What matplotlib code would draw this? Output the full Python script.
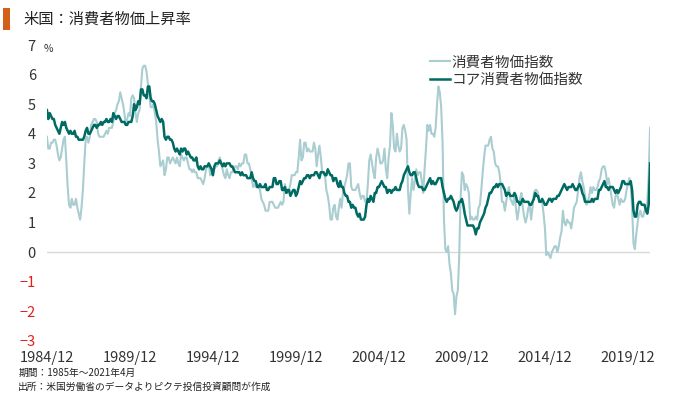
import numpy as np
import matplotlib
matplotlib.use('Agg')
import matplotlib.pyplot as plt
from matplotlib.patches import Rectangle

plt.rcParams['font.family'] = ['Noto Sans CJK JP', 'DejaVu Sans']

# 消費者物価指数 前年比 (%), 1984/12 - 2021/4 月次
cpi = [
    3.9,
    3.5, 3.5, 3.7, 3.7, 3.8, 3.8, 3.6, 3.3, 3.1, 3.2, 3.5, 3.8,
    3.9, 3.1, 2.2, 1.6, 1.5, 1.8, 1.6, 1.6, 1.8, 1.5, 1.3, 1.1,
    1.5, 2.1, 3.0, 3.8, 3.9, 3.7, 3.9, 4.3, 4.4, 4.5, 4.5, 4.4,
    4.0, 3.9, 3.9, 3.9, 3.9, 4.0, 4.1, 4.0, 4.2, 4.2, 4.2, 4.4,
    4.7, 4.8, 5.0, 5.1, 5.4, 5.2, 5.0, 4.7, 4.3, 4.5, 4.7, 4.6,
    5.2, 5.3, 5.2, 4.7, 4.4, 4.7, 4.8, 5.6, 6.2, 6.3, 6.3, 6.1,
    5.7, 5.3, 4.9, 4.9, 5.0, 4.7, 4.4, 3.8, 3.4, 2.9, 3.0, 3.1,
    2.6, 2.8, 3.2, 3.2, 3.0, 3.1, 3.2, 3.1, 3.0, 3.2, 3.0, 2.9,
    3.3, 3.2, 3.1, 3.2, 3.2, 3.0, 2.8, 2.8, 2.7, 2.8, 2.7, 2.7,
    2.5, 2.5, 2.5, 2.4, 2.3, 2.5, 2.8, 2.9, 3.0, 2.6, 2.7, 2.7,
    2.8, 2.9, 2.9, 3.1, 3.2, 3.0, 2.8, 2.6, 2.5, 2.8, 2.6, 2.5,
    2.7, 2.7, 2.8, 2.9, 2.9, 2.8, 3.0, 2.9, 3.0, 3.0, 3.3, 3.3,
    3.0, 3.0, 2.8, 2.5, 2.2, 2.3, 2.2, 2.2, 2.2, 2.1, 1.8, 1.7,
    1.6, 1.4, 1.4, 1.4, 1.7, 1.7, 1.7, 1.6, 1.5, 1.5, 1.5, 1.6,
    1.7, 1.6, 1.7, 2.3, 2.1, 2.0, 2.1, 2.3, 2.6, 2.6, 2.6, 2.7,
    2.7, 3.2, 3.8, 3.1, 3.2, 3.7, 3.7, 3.4, 3.5, 3.4, 3.4, 3.4,
    3.7, 3.5, 2.9, 3.3, 3.6, 3.2, 2.7, 2.7, 2.6, 2.1, 1.9, 1.6,
    1.1, 1.1, 1.5, 1.6, 1.2, 1.1, 1.5, 1.8, 1.5, 2.0, 2.2, 2.4,
    2.6, 3.0, 3.0, 2.2, 2.1, 2.1, 2.1, 2.2, 2.3, 2.0, 1.8, 1.9,
    1.9, 1.7, 1.7, 2.3, 3.1, 3.3, 3.0, 2.7, 2.5, 3.2, 3.5, 3.3,
    3.0, 3.0, 3.1, 3.5, 2.8, 2.5, 3.2, 3.6, 4.7, 4.3, 3.5, 3.4,
    4.0, 3.6, 3.4, 3.5, 4.2, 4.3, 4.1, 3.8, 2.1, 1.3, 2.0, 2.5,
    2.1, 2.4, 2.8, 2.6, 2.7, 2.7, 2.4, 2.0, 2.8, 3.5, 4.3, 4.1,
    4.3, 4.0, 4.0, 3.9, 4.2, 5.0, 5.6, 5.4, 4.9, 3.7, 1.1, 0.1,
    0.0, 0.2, -0.4, -0.7, -1.3, -1.4, -2.1, -1.5, -1.3, -0.2, 1.8, 2.7,
    2.6, 2.1, 2.3, 2.2, 2.0, 1.1, 1.2, 1.1, 1.1, 1.2, 1.1, 1.5,
    1.6, 2.1, 2.7, 3.2, 3.6, 3.6, 3.6, 3.8, 3.9, 3.5, 3.4, 3.0,
    2.9, 2.9, 2.7, 2.3, 1.7, 1.7, 1.4, 1.7, 2.0, 2.2, 1.8, 1.7,
    1.6, 2.0, 1.5, 1.1, 1.4, 1.8, 2.0, 1.5, 1.2, 1.0, 1.2, 1.5,
    1.6, 1.1, 1.5, 2.0, 2.1, 2.1, 2.0, 1.7, 1.7, 1.7, 1.3, 0.8,
    -0.1, 0.0, -0.1, -0.2, 0.0, 0.1, 0.2, 0.2, 0.0, 0.2, 0.5, 0.7,
    1.4, 1.0, 0.9, 1.1, 1.0, 1.0, 0.8, 1.1, 1.5, 1.6, 1.7, 2.1,
    2.5, 2.7, 2.4, 2.2, 1.9, 1.6, 1.7, 1.9, 2.2, 2.0, 2.2, 2.1,
    2.1, 2.2, 2.4, 2.5, 2.8, 2.9, 2.9, 2.7, 2.3, 2.5, 2.2, 1.9,
    1.6, 1.5, 1.9, 2.0, 1.8, 1.6, 1.8, 1.7, 1.7, 1.8, 2.1, 2.3,
    2.5, 2.3, 1.5, 0.3, 0.1, 0.6, 1.0, 1.3, 1.4, 1.2, 1.2, 1.4,
    1.4, 1.7, 2.6, 4.2,
]

# コア消費者物価指数 前年比 (%)
core = [
    4.8,
    4.5, 4.7, 4.6, 4.5, 4.5, 4.3, 4.2, 4.1, 4.0, 4.2, 4.4, 4.3,
    4.4, 4.2, 4.1, 4.0, 4.1, 4.0, 4.0, 4.1, 3.9, 3.9, 3.8, 3.8,
    3.8, 3.8, 3.9, 4.1, 4.2, 4.0, 4.0, 4.1, 4.2, 4.3, 4.3, 4.2,
    4.3, 4.3, 4.4, 4.3, 4.4, 4.4, 4.5, 4.4, 4.4, 4.5, 4.4, 4.7,
    4.6, 4.5, 4.6, 4.6, 4.5, 4.4, 4.4, 4.4, 4.3, 4.3, 4.4, 4.4,
    4.4, 4.6, 5.0, 4.8, 4.9, 5.1, 5.0, 5.5, 5.5, 5.3, 5.3, 5.2,
    5.6, 5.6, 5.2, 5.1, 5.1, 5.0, 4.8, 4.6, 4.5, 4.4, 4.5, 4.4,
    3.9, 3.8, 3.9, 3.9, 3.8, 3.8, 3.7, 3.5, 3.4, 3.5, 3.4, 3.3,
    3.5, 3.4, 3.5, 3.5, 3.3, 3.4, 3.3, 3.2, 3.2, 3.1, 3.1, 3.2,
    2.9, 2.8, 2.9, 2.8, 2.8, 2.9, 2.9, 2.9, 3.0, 2.9, 2.8, 2.6,
    2.9, 3.0, 3.0, 3.0, 3.1, 3.0, 2.9, 3.0, 2.9, 3.0, 3.0, 3.0,
    2.9, 2.9, 2.8, 2.7, 2.7, 2.7, 2.7, 2.6, 2.7, 2.6, 2.6, 2.6,
    2.5, 2.5, 2.5, 2.7, 2.5, 2.4, 2.4, 2.2, 2.2, 2.3, 2.2, 2.2,
    2.2, 2.3, 2.1, 2.1, 2.2, 2.2, 2.2, 2.5, 2.5, 2.3, 2.3, 2.4,
    2.4, 2.1, 2.1, 2.2, 2.0, 2.1, 2.1, 1.9, 2.0, 2.1, 2.1, 1.9,
    2.0, 2.2, 2.4, 2.3, 2.4, 2.5, 2.5, 2.6, 2.6, 2.5, 2.6, 2.6,
    2.6, 2.7, 2.7, 2.6, 2.5, 2.7, 2.7, 2.7, 2.6, 2.6, 2.8, 2.7,
    2.6, 2.6, 2.4, 2.5, 2.5, 2.3, 2.2, 2.4, 2.2, 2.2, 2.0, 1.9,
    1.9, 1.7, 1.7, 1.5, 1.6, 1.5, 1.5, 1.3, 1.2, 1.3, 1.1, 1.1,
    1.1, 1.2, 1.6, 1.8, 1.7, 1.9, 1.8, 1.7, 2.0, 2.0, 2.2, 2.2,
    2.3, 2.4, 2.3, 2.2, 2.2, 2.0, 2.1, 2.1, 2.0, 2.1, 2.1, 2.2,
    2.1, 2.1, 2.1, 2.3, 2.4, 2.6, 2.7, 2.8, 2.9, 2.7, 2.6, 2.6,
    2.7, 2.7, 2.5, 2.3, 2.2, 2.2, 2.2, 2.1, 2.1, 2.2, 2.3, 2.4,
    2.5, 2.3, 2.4, 2.3, 2.3, 2.4, 2.5, 2.5, 2.5, 2.2, 2.0, 1.8,
    1.7, 1.8, 1.8, 1.9, 1.8, 1.7, 1.5, 1.4, 1.5, 1.7, 1.7, 1.8,
    1.6, 1.3, 1.1, 0.9, 0.9, 0.9, 0.9, 0.9, 0.8, 0.6, 0.8, 0.8,
    1.0, 1.1, 1.2, 1.3, 1.5, 1.6, 1.8, 2.0, 2.0, 2.1, 2.2, 2.2,
    2.3, 2.2, 2.3, 2.3, 2.3, 2.2, 2.1, 1.9, 2.0, 2.0, 1.9, 1.9,
    1.9, 2.0, 1.9, 1.7, 1.7, 1.6, 1.7, 1.8, 1.7, 1.7, 1.7, 1.7,
    1.6, 1.6, 1.7, 1.8, 2.0, 1.9, 1.9, 1.7, 1.7, 1.8, 1.7, 1.6,
    1.6, 1.7, 1.8, 1.8, 1.7, 1.8, 1.8, 1.8, 1.9, 1.9, 2.0, 2.1,
    2.2, 2.3, 2.2, 2.1, 2.2, 2.2, 2.2, 2.3, 2.2, 2.1, 2.1, 2.2,
    2.3, 2.2, 2.0, 1.9, 1.7, 1.7, 1.7, 1.7, 1.7, 1.8, 1.7, 1.8,
    1.8, 1.8, 2.1, 2.1, 2.2, 2.3, 2.4, 2.2, 2.2, 2.1, 2.2, 2.2,
    2.2, 2.1, 2.0, 2.1, 2.0, 2.1, 2.2, 2.4, 2.4, 2.3, 2.3, 2.3,
    2.3, 2.4, 2.1, 1.4, 1.2, 1.2, 1.6, 1.7, 1.7, 1.6, 1.6, 1.6,
    1.4, 1.3, 1.6, 3.0,
]

xtick_labels = ['1984/12', '1989/12', '1994/12', '1999/12',
                '2004/12', '2009/12', '2014/12', '2019/12']
yticks = list(range(-3, 8))

c_light = '#a9cdd0'
c_dark = '#006b63'
c_text = '#333333'

fig = plt.figure(figsize=(6.8, 3.95), dpi=100)
ax = fig.add_axes([0.069, 0.137, 0.887, 0.749])

x = np.arange(len(cpi))
ax.axhline(0, color='#d9d9d9', lw=1, zorder=1)
ax.plot(x, cpi, color=c_light, lw=1.5, label='消費者物価指数', zorder=2)
ax.plot(x, core, color=c_dark, lw=1.8, label='コア消費者物価指数', zorder=3)

ax.set_xlim(0, len(cpi) - 1)
ax.set_ylim(-3, 7)
ax.set_xticks(np.arange(len(xtick_labels)) * 60)
ax.set_xticklabels(xtick_labels, fontsize=10.5, color=c_text)
ax.set_yticks(yticks)
ax.set_yticklabels([str(v).replace('-', '−') for v in yticks], fontsize=10.5)
for v, lab in zip(yticks, ax.get_yticklabels()):
    lab.set_color('#e0201b' if v < 0 else c_text)
ax.tick_params(axis='x', length=0, pad=7)
ax.tick_params(axis='y', length=0, pad=8)
for s in ax.spines.values():
    s.set_visible(False)

ax.legend(loc='upper left', bbox_to_anchor=(0.625, 0.985), frameon=False,
          fontsize=10.5, handlelength=1.4, handletextpad=0.1,
          labelspacing=0.25, borderaxespad=0, labelcolor=c_text)

# タイトル・注記
fig.add_artist(Rectangle((0.005, 0.925), 0.009, 0.055, transform=fig.transFigure,
                         color='#d2601a', lw=0))
fig.text(0.035, 0.952, '米国：消費者物価上昇率', fontsize=11, color='#222222',
         va='center', ha='left')
fig.text(0.064, 0.877, '%', fontsize=7.5, color=c_text, va='center')
fig.text(0.027, 0.055, '期間：1985年～2021年4月', fontsize=7, color='#222222', va='center')
fig.text(0.027, 0.02, '出所：米国労働省のデータよりピクテ投信投資顧問が作成', fontsize=7,
         color='#222222', va='center')

fig.savefig('out.png', dpi=100)
